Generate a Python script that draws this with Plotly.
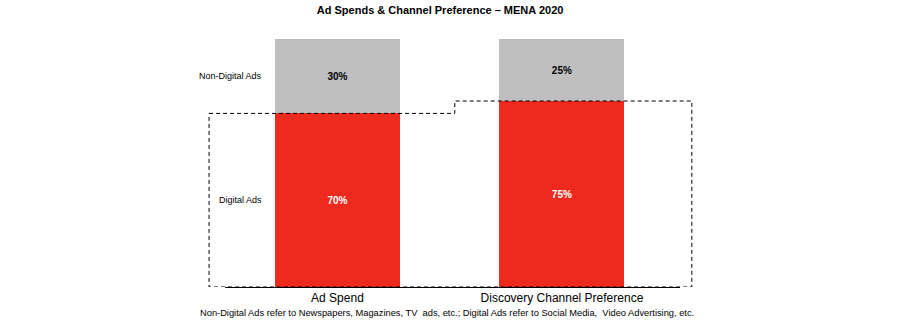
import plotly.graph_objects as go

categories = ["Ad Spend", "Discovery Channel Preference"]
digital = [70, 75]
non_digital = [30, 25]
series_names = ["Digital Ads", "Non-Digital Ads"]
title_text = "Ad Spends & Channel Preference – MENA 2020"
footnote = ("Non-Digital Ads refer to Newspapers, Magazines, TV  ads, etc.; "
            "Digital Ads refer to Social Media,  Video Advertising, etc.")

FONT = "Liberation Sans, Arial, sans-serif"
RED = "#EE2A1F"
GRAY = "#BFBFBF"

fig = go.Figure()
fig.add_trace(go.Bar(
    x=categories, y=digital, name=series_names[0],
    marker=dict(color=RED, line=dict(width=0)), width=0.557,
    text=[f"<b>{v}%</b>" for v in digital], textposition="inside",
    insidetextanchor="middle", textangle=0,
    textfont=dict(family=FONT, size=10, color="white"),
    hoverinfo="skip",
))
fig.add_trace(go.Bar(
    x=categories, y=non_digital, name=series_names[1],
    marker=dict(color=GRAY, line=dict(width=0)), width=0.557,
    text=[f"<b>{v}%</b>" for v in non_digital], textposition="inside",
    insidetextanchor="middle", textangle=0,
    textfont=dict(family=FONT, size=10, color="black"),
    hoverinfo="skip",
))

# dashed outline around the digital share
xl, xm, xr = -0.035, 0.505, 1.026
path = (f"M {xl} {digital[0]} L {xm} {digital[0]} L {xm} {digital[1]} "
        f"L {xr} {digital[1]} L {xr} 0 L {xl} 0 Z")
fig.add_shape(type="path", xref="paper", yref="y", path=path,
              line=dict(color="black", width=1, dash="4px,3px"), layer="above")

# series labels, placed at middle of first bar's segments
fig.add_annotation(x=0.086, xref="paper", y=digital[0] / 2, yref="y",
                   text=series_names[0], showarrow=False, xanchor="right",
                   font=dict(family=FONT, size=9, color="black"))
fig.add_annotation(x=0.086, xref="paper", y=digital[0] + non_digital[0] / 2, yref="y",
                   text=series_names[1], showarrow=False, xanchor="right",
                   font=dict(family=FONT, size=9, color="black"))

fig.add_annotation(x=0.488, xref="paper", y=-0.105, yref="paper",
                   text=footnote, showarrow=False, xanchor="center", yanchor="middle",
                   font=dict(family=FONT, size=9.3, color="black"))

fig.update_layout(
    width=900, height=325,
    margin=dict(l=225, r=220, t=39, b=38),
    paper_bgcolor="white", plot_bgcolor="white",
    barmode="stack", showlegend=False,
    title=dict(text=f"<b>{title_text}</b>", x=0.489, xanchor="center",
               y=1 - 10 / 325, yanchor="middle", yref="container",
               font=dict(family=FONT, size=11, color="black")),
    xaxis=dict(type="category", range=[-0.501, 1.526], showline=True,
               linecolor="black", linewidth=1, ticks="", showgrid=False,
               tickfont=dict(family=FONT, size=12, color="black")),
    yaxis=dict(range=[0, 100], visible=False, showgrid=False),
    font=dict(family=FONT),
)

fig.write_html("out.html")
